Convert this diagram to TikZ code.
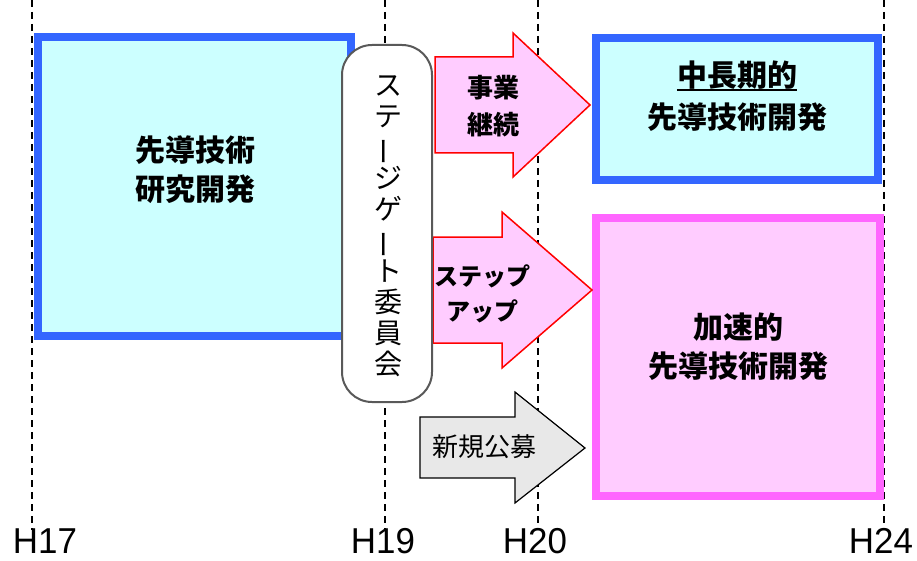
\documentclass[tikz,border=0pt]{standalone}
\usepackage{fontspec}
\usepackage{graphicx}
\newfontfamily\jp{Noto Sans CJK JP}
\newfontfamily\lat{Liberation Sans}
\newcommand\tatebar{\rotatebox[origin=c]{90}{ー}}
\definecolor{boxblue}{HTML}{3366FF}
\definecolor{boxcyan}{HTML}{CCFFFF}
\definecolor{boxmag}{HTML}{FF66FF}
\definecolor{boxpink}{HTML}{FFCCFF}
\definecolor{arrgray}{HTML}{E8E8E8}
\begin{document}
\begin{tikzpicture}[x=1pt,y=-1pt,
  guide/.style={black, line width=2pt, dash pattern=on 7pt off 5pt},
  bluebox/.style={draw=boxblue, fill=boxcyan, line width=8pt},
  pinkbox/.style={draw=boxmag, fill=boxpink, line width=8pt},
  redarrow/.style={draw=red, fill=boxpink, line width=1.5pt},
  grayarrow/.style={draw=black, fill=arrgray, line width=1.2pt},
  gate/.style={draw=black!65, fill=white, line width=2pt, rounded corners=30pt},
  bigtxt/.style={font=\jp\bfseries\fontsize{30}{39}\selectfont, align=center, inner sep=0pt},
  midtxt/.style={font=\jp\bfseries\fontsize{26}{37}\selectfont, align=center, inner sep=0pt},
  steptxt/.style={font=\jp\bfseries\fontsize{24}{35}\selectfont, align=center, inner sep=0pt},
  plaintxt/.style={font=\jp\fontsize{26}{30}\selectfont, inner sep=0pt},
  vtxt/.style={font=\jp\fontsize{28}{31}\selectfont, align=center, inner sep=0pt},
  yearlbl/.style={font=\lat\fontsize{36}{38}\selectfont, inner sep=0pt, anchor=base},
]
\useasboundingbox (0,0) rectangle (917,561);

% time guides
\coordinate (g17t) at (32,0);   \coordinate (g17b) at (32,530);
\coordinate (g19t) at (385,0);  \coordinate (g19b) at (385,530);
\coordinate (g20t) at (538,0);  \coordinate (g20b) at (538,530);
\coordinate (g24t) at (883.5,0);\coordinate (g24b) at (883.5,530);
\draw[guide] (g17t) -- (g17b);
\draw[guide] (g19t) -- (g19b);
\draw[guide] (g20t) -- (g20b);
\draw[guide] (g24t) -- (g24b);

% boxes
\draw[bluebox] (38,37) rectangle (351,336);
\draw[bluebox] (596,38) rectangle (878,180);
\draw[pinkbox] (596,218) rectangle (880,496);

% arrows
\draw[redarrow] (435,57) -- (513,57) -- (513,33) -- (590,105) -- (513,177) -- (513,153) -- (435,153) -- cycle;
\draw[redarrow] (433,237) -- (502,237) -- (502,212) -- (592,290) -- (502,368) -- (502,343) -- (433,343) -- cycle;
\draw[grayarrow] (420,417) -- (515,417) -- (515,392) -- (585,448) -- (515,503) -- (515,478) -- (420,478) -- cycle;

% stage gate committee
\draw[gate] (342,45) rectangle (432,402);
\node[vtxt] (gatetxt) at (388,226) {ス\\テ\\\tatebar\\ジ\\ゲ\\\tatebar\\ト\\委\\員\\会};

% texts
\node[bigtxt] (lefttxt) at (195,170) {先導技術\\研究開発};
\node[bigtxt] (midlong) at (737,75) {中長期的};
\draw[black, line width=2pt] ([yshift=-1pt]midlong.south west) -- ([yshift=-1pt]midlong.south east);
\node[bigtxt] (midlong2) at (737,117) {先導技術開発};
\node[bigtxt] (accel) at (738,347) {加速的\\先導技術開発};
\node[midtxt] (cont) at (493,106) {事業\\継続};
\node[steptxt] (stepup) at (482,294) {ステップ\\アップ};
\node[plaintxt] (newpub) at (484,447) {新規公募};

% year labels
\node[yearlbl] (h17) at (45,553) {\scalebox{0.97}[1]{H17}};
\node[yearlbl] (h19) at (383,553) {\scalebox{0.97}[1]{H19}};
\node[yearlbl] (h20) at (535,553) {\scalebox{0.97}[1]{H20}};
\node[yearlbl] (h24) at (881,553) {\scalebox{0.97}[1]{H24}};
\end{tikzpicture}
\end{document}
